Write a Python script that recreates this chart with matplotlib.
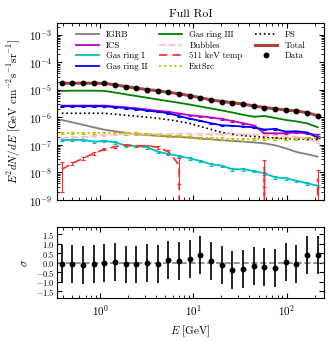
import numpy as np
import matplotlib
matplotlib.use('Agg')
import matplotlib.pyplot as plt
from matplotlib.lines import Line2D

plt.rcParams['font.family'] = 'serif'
plt.rcParams['font.serif'] = ['cmr10']
plt.rcParams['mathtext.fontset'] = 'cm'
plt.rcParams['axes.formatter.use_mathtext'] = True
plt.rcParams['xtick.direction'] = 'in'
plt.rcParams['ytick.direction'] = 'in'
plt.rcParams['xtick.top'] = True
plt.rcParams['ytick.right'] = True

# energy bins [GeV]
energy = [0.389, 0.506, 0.659, 0.857, 1.115, 1.450, 1.887, 2.455, 3.194, 4.156,
          5.408, 7.036, 9.155, 11.91, 15.50, 20.16, 26.23, 34.13, 44.41, 57.78,
          75.16, 97.79, 127.2, 165.5, 215.4]

# E^2 dN/dE [GeV cm^-2 s^-1 sr^-1]
data = [1.75e-5, 1.75e-5, 1.75e-5, 1.75e-5, 1.75e-5, 1.52e-5, 1.32e-5, 1.15e-5, 1.03e-5, 9.4e-6,
        8.2e-6, 7.2e-6, 6.2e-6, 5.25e-6, 4.33e-6, 3.76e-6, 3.45e-6, 3.1e-6, 2.62e-6, 2.27e-6,
        2.04e-6, 1.87e-6, 1.72e-6, 1.5e-6, 1.16e-6]
total = [1.74e-5, 1.76e-5, 1.76e-5, 1.75e-5, 1.73e-5, 1.52e-5, 1.33e-5, 1.16e-5, 1.03e-5, 9.3e-6,
         8.2e-6, 7.2e-6, 6.2e-6, 5.2e-6, 4.35e-6, 3.8e-6, 3.45e-6, 3.05e-6, 2.62e-6, 2.3e-6,
         2.05e-6, 1.87e-6, 1.7e-6, 1.5e-6, 1.16e-6]
igrb = [8.1e-7, 6.6e-7, 5.38e-7, 4.37e-7, 3.57e-7, 3.13e-7, 2.76e-7, 2.45e-7, 2.29e-7, 2.14e-7,
        2.04e-7, 1.94e-7, 1.84e-7, 1.72e-7, 1.6e-7, 1.48e-7, 1.4e-7, 1.32e-7, 1.24e-7, 1.14e-7,
        9.75e-8, 7.6e-8, 5.56e-8, 4.62e-8, 3.76e-8]
ics = [2.69e-6, 2.69e-6, 2.69e-6, 2.69e-6, 2.69e-6, 2.49e-6, 2.33e-6, 2.16e-6, 1.94e-6, 1.74e-6,
       1.61e-6, 1.39e-6, 1.21e-6, 1.1e-6, 1.0e-6, 8.8e-7, 7.4e-7, 6.2e-7, 5.1e-7, 2.66e-7,
       2.66e-7, 2.66e-7, 2.85e-7, 2.62e-7, 2.31e-7]
gas1 = [1.52e-7, 1.52e-7, 1.52e-7, 1.32e-7, 1.4e-7, 1.25e-7, 9.43e-8, 9.2e-8, 8.25e-8, 5.7e-8,
        4.71e-8, 3.98e-8, 3.23e-8, 2.62e-8, 1.99e-8, 1.77e-8, 1.31e-8, 1.31e-8, 1.13e-8, 9.35e-9,
        6.7e-9, 6.15e-9, 5.03e-9, 4.05e-9, 3.31e-9]
gas2 = [2.55e-6, 2.55e-6, 2.55e-6, 2.55e-6, 2.55e-6, 2.37e-6, 2.2e-6, 2.0e-6, 1.78e-6, 1.6e-6,
        1.43e-6, 1.12e-6, 9.0e-7, 7.5e-7, 6.15e-7, 5.2e-7, 4.95e-7, 4.67e-7, 4.37e-7, 3.63e-7,
        3.82e-7, 3.05e-7, 3.15e-7, 2.85e-7, 1.84e-7]
gas3 = [9.2e-6, 9.4e-6, 9.4e-6, 9.4e-6, 9.2e-6, 8.0e-6, 6.9e-6, 6.0e-6, 5.2e-6, 4.5e-6,
        3.9e-6, 3.4e-6, 2.94e-6, 2.49e-6, 2.11e-6, 1.8e-6, 1.51e-6, 1.25e-6, 1.06e-6, 1.13e-6,
        9.6e-7, 8.1e-7, 7.2e-7, 6.1e-7, 4.4e-7]
bubbles = [1.8e-7, 1.88e-7, 1.96e-7, 2.13e-7, 2.31e-7, 2.41e-7, 2.51e-7, 2.51e-7, 2.51e-7, 2.51e-7,
           2.51e-7, 2.51e-7, 2.51e-7, 2.51e-7, 2.51e-7, 2.51e-7, 2.51e-7, 2.45e-7, 2.41e-7, 2.31e-7,
           2.2e-7, 2.13e-7, 1.96e-7, 1.65e-7, 1.28e-7]
temp511 = [1.3e-8, 2.16e-8, 3.28e-8, 4.99e-8, 6.98e-8, 8.67e-8, 1.0e-7, 9.43e-8, 9.43e-8, 8.24e-8,
           5.7e-8, 1.87e-8, 0, 0, 0, 0, 0, 0, 0, 1.55e-8,
           0, 0, 0, 0, 6e-9]
temp511_err = [1.1e-8, 3e-9, 4e-9, 5e-9, 6e-9, 7e-9, 8e-9, 8e-9, 8e-9, 9e-9,
               1e-8, 1.5e-8, 0, 0, 0, 0, 0, 0, 0, 1.25e-8,
               0, 0, 0, 0, 6.5e-9]
extsrc = [2.73e-7, 2.73e-7, 2.73e-7, 2.73e-7, 2.73e-7, 2.69e-7, 2.64e-7, 2.6e-7, 2.47e-7, 2.32e-7,
          2.17e-7, 2.09e-7, 1.92e-7, 1.84e-7, 1.78e-7, 1.7e-7, 1.63e-7, 1.58e-7, 1.63e-7, 1.67e-7,
          1.7e-7, 1.71e-7, 1.74e-7, 1.77e-7, 1.8e-7]
ps = [1.42e-6, 1.42e-6, 1.42e-6, 1.42e-6, 1.42e-6, 1.31e-6, 1.2e-6, 1.11e-6, 1.02e-6, 9.35e-7,
      8.25e-7, 7.2e-7, 6.05e-7, 4.7e-7, 3.66e-7, 2.85e-7, 2.47e-7, 2.18e-7, 2.04e-7, 1.9e-7,
      1.8e-7, 1.69e-7, 1.65e-7, 1.61e-7, 1.56e-7]

labels = ['IGRB', 'ICS', 'Gas ring I', 'Gas ring II', 'Gas ring III', 'Bubbles',
          '511 keV temp', 'ExtSrc', 'PS', 'Total', 'Data']

# residuals in units of sigma
resid = [-0.05, -0.07, -0.14, -0.05, 0.0, 0.04, -0.09, -0.09, 0.0, -0.05,
         0.16, 0.07, 0.21, 0.42, 0.1, -0.1, -0.38, -0.35, -0.17, -0.23,
         -0.26, 0.04, -0.05, 0.4, 0.4]
resid_err = [1.0] * 25

E = np.array(energy)

fig = plt.figure(figsize=(3.32, 3.41), dpi=100)
ax1 = fig.add_axes([0.172, 0.4135, 0.804, 0.519])
ax2 = fig.add_axes([0.172, 0.126, 0.804, 0.208])

ax1.set_xscale('log')
ax1.set_yscale('log')

eb = dict(capsize=1.5, elinewidth=0.8, capthick=0.8)
h = []
h.append(ax1.plot(E, igrb, color='grey', lw=1.3)[0])
h.append(ax1.errorbar(E, ics, yerr=0.05 * np.array(ics), color='m', lw=1.3, **eb)[0])
h.append(ax1.errorbar(E, gas1, yerr=0.1 * np.array(gas1), color='c', lw=1.3, **eb)[0])
h.append(ax1.errorbar(E, gas2, yerr=0.05 * np.array(gas2), color='b', lw=1.3, **eb)[0])
h.append(ax1.plot(E, gas3, color='g', lw=1.3)[0])
h.append(ax1.errorbar(E, bubbles, yerr=0.08 * np.array(bubbles), color='pink', ls='--', lw=1.3,
                      **eb)[0])
h.append(ax1.errorbar(E, temp511, yerr=temp511_err, color='#ff2a2a', ls=(0, (5, 3)), lw=1.2,
                      **eb)[0])
h.append(ax1.errorbar(E, extsrc, yerr=0.1 * np.array(extsrc), color='y', ls=':', lw=1.4,
                      **eb)[0])
h.append(ax1.plot(E, ps, color='k', ls=':', lw=1.2)[0])
h.append(ax1.plot(E, total, color='#b0403c', lw=2.2)[0])
ax1.errorbar(E, data, yerr=0.02 * np.array(data), fmt='o', color='k', ms=3.2, elinewidth=0.8)
h.append(Line2D([], [], ls='none', marker='o', color='k', ms=3.2))

ax1.set_xlim(0.346, 252)
ax1.set_ylim(1e-9, 2.7e-3)
ax1.set_xticklabels([])
ax1.tick_params(which='major', labelsize=8, length=3.5)
ax1.tick_params(which='minor', length=2)
ax1.set_ylabel(r'$E^2dN/dE$ [GeV cm$^{-2}$s$^{-1}$sr$^{-1}$]', fontsize=8)
ax1.set_title('Full RoI', fontsize=8.5, pad=4)
ax1.legend(h, labels, ncol=3, frameon=False, fontsize=6.3, loc='upper center',
           handlelength=2.6, columnspacing=1.4, labelspacing=0.25, borderaxespad=0.5)

ax2.set_xscale('log')
ax2.axhline(0, color='grey', ls='--', lw=1.2)
ax2.errorbar(E, resid, yerr=resid_err, fmt='o', color='k', ms=3.2, elinewidth=1.2)
ax2.set_xlim(0.346, 252)
ax2.set_ylim(-1.86, 1.88)
ax2.set_yticks([-1.5, -1.0, -0.5, 0.0, 0.5, 1.0, 1.5])
ax2.tick_params(axis='y', labelsize=6, pad=2)
ax2.tick_params(axis='x', labelsize=8)
ax2.tick_params(which='major', length=3.5)
ax2.tick_params(which='minor', length=2)
ax2.set_ylabel(r'$\sigma$', fontsize=8)
ax2.set_xlabel(r'$E$ [GeV]', fontsize=8)

fig.savefig('out.png', dpi=100)
